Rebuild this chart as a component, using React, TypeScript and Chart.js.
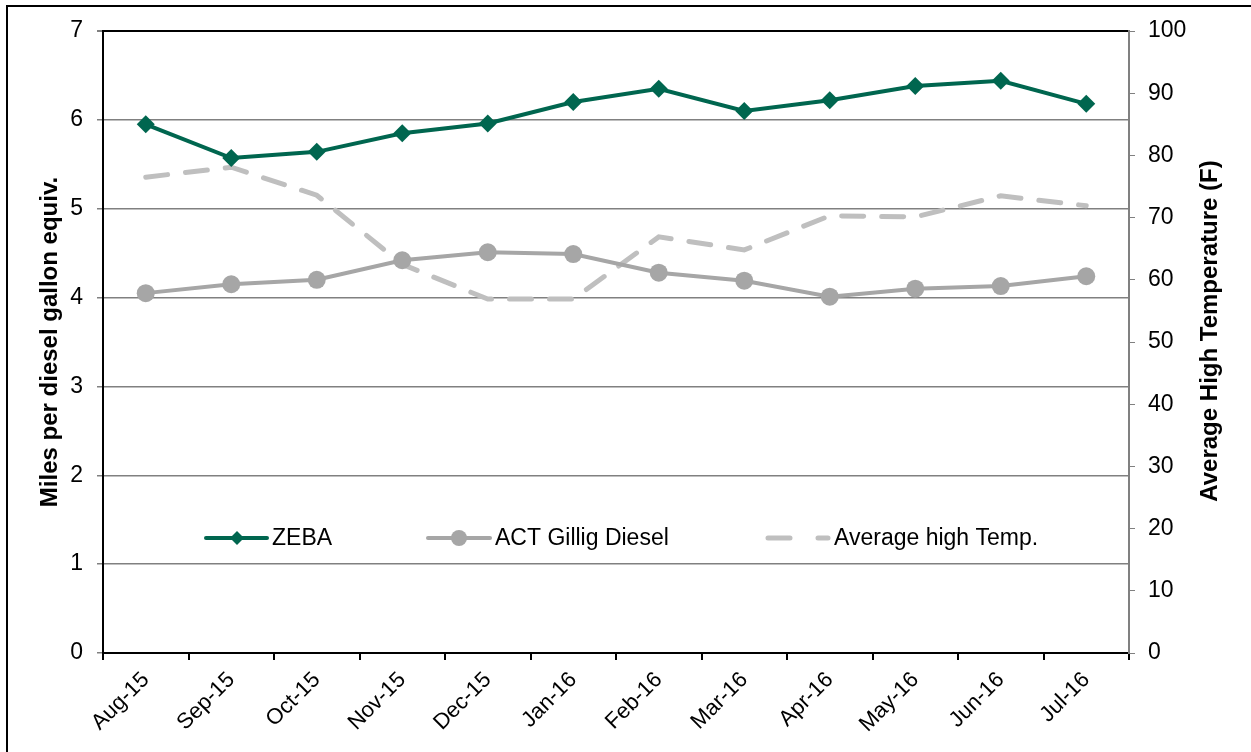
import React, { useEffect, useRef } from "react";
import { Chart, registerables } from "chart.js";

Chart.register(...registerables);

const categories = ["Aug-15", "Sep-15", "Oct-15", "Nov-15", "Dec-15", "Jan-16", "Feb-16", "Mar-16", "Apr-16", "May-16", "Jun-16", "Jul-16"];
const zebaValues = [5.95, 5.57, 5.64, 5.85, 5.96, 6.2, 6.35, 6.1, 6.22, 6.38, 6.44, 6.18];
const actValues = [4.05, 4.15, 4.2, 4.42, 4.51, 4.49, 4.28, 4.19, 4.01, 4.1, 4.13, 4.24];
const tempValues = [76.5, 78.1, 73.6, 62.5, 56.9, 56.9, 66.9, 64.8, 70.3, 70.1, 73.5, 71.9];
const seriesNames = ["ZEBA", "ACT Gillig Diesel", "Average high Temp."];
const leftTitle = "Miles per diesel gallon equiv.";
const rightTitle = "Average High Temperature (F)";

const GREEN = "#00664F";
const GRAY = "#A6A6A6";
const LIGHT = "#BFBFBF";
const FONT = "Liberation Sans, Arial, sans-serif";

export default function App() {
  const ref = useRef<HTMLCanvasElement>(null);
  useEffect(() => {
    document.body.style.margin = "0";
    const canvas = ref.current!;
    const overlay = {
      id: "overlay",
      afterDraw(chart: any) {
        const ctx = chart.ctx as CanvasRenderingContext2D;
        ctx.save();
        // outer border
        ctx.strokeStyle = "#000";
        ctx.lineWidth = 2;
        ctx.strokeRect(7, 6, 1300, 800);
        // axis titles
        ctx.fillStyle = "#000";
        ctx.font = `bold 24px ${FONT}`;
        ctx.textAlign = "center";
        ctx.textBaseline = "middle";
        ctx.save();
        ctx.translate(50, 342);
        ctx.rotate(-Math.PI / 2);
        ctx.fillText(leftTitle, 0, 0);
        ctx.restore();
        ctx.save();
        ctx.translate(1210, 331);
        ctx.rotate(-Math.PI / 2);
        ctx.fillText(rightTitle, 0, 0);
        ctx.restore();
        // legend
        const ly = 538;
        ctx.font = `23px ${FONT}`;
        ctx.textAlign = "left";
        ctx.lineCap = "round";
        // ZEBA
        ctx.strokeStyle = GREEN;
        ctx.lineWidth = 4;
        ctx.beginPath();
        ctx.moveTo(206, ly);
        ctx.lineTo(267, ly);
        ctx.stroke();
        ctx.fillStyle = GREEN;
        ctx.beginPath();
        ctx.moveTo(237, ly - 7);
        ctx.lineTo(244, ly);
        ctx.lineTo(237, ly + 7);
        ctx.lineTo(230, ly);
        ctx.closePath();
        ctx.fill();
        ctx.fillStyle = "#000";
        ctx.fillText(seriesNames[0], 272, ly + 1);
        // ACT
        ctx.strokeStyle = GRAY;
        ctx.beginPath();
        ctx.moveTo(428, ly);
        ctx.lineTo(490, ly);
        ctx.stroke();
        ctx.fillStyle = GRAY;
        ctx.beginPath();
        ctx.arc(459, ly, 8, 0, Math.PI * 2);
        ctx.fill();
        ctx.fillStyle = "#000";
        ctx.fillText(seriesNames[1], 495, ly + 1);
        // Temp
        ctx.strokeStyle = LIGHT;
        ctx.lineWidth = 5;
        ctx.beginPath();
        ctx.moveTo(768, ly);
        ctx.lineTo(790, ly);
        ctx.moveTo(818, ly);
        ctx.lineTo(828, ly);
        ctx.stroke();
        ctx.fillStyle = "#000";
        ctx.fillText(seriesNames[2], 834, ly + 1);
        ctx.restore();
      },
    };
    const chart = new Chart(canvas, {
      type: "line",
      data: {
        labels: categories,
        datasets: [
          {
            label: seriesNames[0],
            data: zebaValues,
            yAxisID: "y",
            borderColor: GREEN,
            backgroundColor: GREEN,
            borderWidth: 4,
            pointStyle: "rectRot",
            pointRadius: 9,
            pointBorderWidth: 0,
            tension: 0,
            order: 1,
          },
          {
            label: seriesNames[1],
            data: actValues,
            yAxisID: "y",
            borderColor: GRAY,
            backgroundColor: GRAY,
            borderWidth: 4,
            pointStyle: "circle",
            pointRadius: 9,
            pointBorderWidth: 0,
            tension: 0,
            order: 2,
          },
          {
            label: seriesNames[2],
            data: tempValues,
            yAxisID: "y1",
            borderColor: LIGHT,
            backgroundColor: LIGHT,
            borderWidth: 5,
            borderDash: [22, 18],
            borderCapStyle: "round",
            pointRadius: 0,
            tension: 0,
            order: 3,
          },
        ],
      },
      options: {
        animation: false,
        responsive: false,
        layout: { padding: { top: 31, left: 0, right: 0, bottom: 0 } },
        plugins: { legend: { display: false }, tooltip: { enabled: false } },
        scales: {
          x: {
            offset: true,
            grid: { display: true, drawOnChartArea: false, offset: true, tickLength: 7, tickColor: "#000", lineWidth: 2 },
            border: { color: "#000", width: 2 },
            ticks: { color: "#000", font: { family: FONT, size: 22 }, maxRotation: 45, minRotation: 45, padding: 7, autoSkip: false },
            afterFit: (s: any) => { s.height = 99; },
          },
          y: {
            position: "left",
            min: 0,
            max: 7,
            ticks: { stepSize: 1, color: "#000", font: { family: FONT, size: 23 }, padding: 14 },
            grid: {
              color: (c: any) => (c.tick && c.tick.value === 7 ? "#000" : "#808080"),
              lineWidth: (c: any) => (c.tick && c.tick.value === 7 ? 2 : 1.5),
              tickLength: 6,
              tickColor: "#808080",
            },
            border: { color: "#000", width: 2 },
            afterFit: (s: any) => { s.width = 103; },
          },
          y1: {
            position: "right",
            min: 0,
            max: 100,
            ticks: { stepSize: 10, color: "#000", font: { family: FONT, size: 23 }, padding: 13 },
            grid: { drawOnChartArea: false, tickLength: 6, tickColor: "#808080" },
            border: { color: "#808080", width: 2 },
            afterFit: (s: any) => { s.width = 122; },
          },
        },
      },
      plugins: [overlay],
    });
    return () => chart.destroy();
  }, []);
  return <canvas ref={ref} width={1251} height={752} style={{ display: "block" }} />;
}
